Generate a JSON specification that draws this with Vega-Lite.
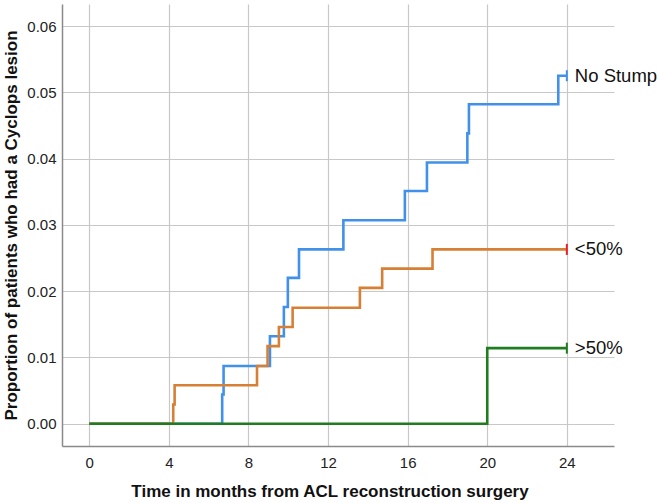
{
  "$schema": "https://vega.github.io/schema/vega-lite/v6.json",
  "width": 552,
  "height": 442,
  "autosize": "none",
  "padding": {"left": 62, "top": 4, "right": 46, "bottom": 57},
  "background": "white",
  "config": {
    "view": {"stroke": null},
    "font": "Liberation Sans",
    "axis": {
      "labelFont": "Liberation Sans",
      "titleFont": "Liberation Sans",
      "labelFontSize": 15,
      "labelColor": "#222222",
      "titleColor": "#111111",
      "titleFontSize": 17,
      "titleFontWeight": "bold",
      "gridColor": "#c8c8c8",
      "gridWidth": 1.2,
      "gridOpacity": 1,
      "domainColor": "#8a8a8a",
      "domainWidth": 1.5,
      "ticks": false
    }
  },
  "datasets": {
    "nostump": [
      {"series": "No Stump", "t": 0, "p": 0},
      {"series": "No Stump", "t": 6.68, "p": 0.0044},
      {"series": "No Stump", "t": 6.75, "p": 0.0087},
      {"series": "No Stump", "t": 9.08, "p": 0.0132},
      {"series": "No Stump", "t": 9.78, "p": 0.0176},
      {"series": "No Stump", "t": 9.98, "p": 0.022},
      {"series": "No Stump", "t": 10.54, "p": 0.0263},
      {"series": "No Stump", "t": 12.77, "p": 0.0307},
      {"series": "No Stump", "t": 15.86, "p": 0.0351},
      {"series": "No Stump", "t": 16.97, "p": 0.0394},
      {"series": "No Stump", "t": 19.0, "p": 0.0438},
      {"series": "No Stump", "t": 19.08, "p": 0.0482},
      {"series": "No Stump", "t": 23.57, "p": 0.0525},
      {"series": "No Stump", "t": 24, "p": 0.0525}
    ],
    "lt50": [
      {"series": "<50%", "t": 0, "p": 0},
      {"series": "<50%", "t": 4.22, "p": 0.0029},
      {"series": "<50%", "t": 4.29, "p": 0.0058},
      {"series": "<50%", "t": 8.43, "p": 0.0087},
      {"series": "<50%", "t": 8.96, "p": 0.0117},
      {"series": "<50%", "t": 9.53, "p": 0.0146},
      {"series": "<50%", "t": 10.22, "p": 0.0175},
      {"series": "<50%", "t": 13.6, "p": 0.0205},
      {"series": "<50%", "t": 14.72, "p": 0.0234},
      {"series": "<50%", "t": 17.25, "p": 0.0263},
      {"series": "<50%", "t": 24, "p": 0.0263}
    ],
    "gt50": [
      {"series": ">50%", "t": 0, "p": 0},
      {"series": ">50%", "t": 20.0, "p": 0.0114},
      {"series": ">50%", "t": 24, "p": 0.0114}
    ],
    "ends": [
      {"series": "No Stump", "t": 24, "p": 0.0525, "censor": "blue"},
      {"series": "<50%", "t": 24, "p": 0.0263, "censor": "red"},
      {"series": ">50%", "t": 24, "p": 0.0114, "censor": "green"}
    ]
  },
  "encoding": {
    "x": {
      "field": "t",
      "type": "quantitative",
      "scale": {"domain": [-1.37, 26.37], "nice": false, "zero": false},
      "axis": {
        "values": [0, 4, 8, 12, 16, 20, 24],
        "title": "Time in months from ACL reconstruction surgery",
        "labelPadding": 9,
        "titleX": 267.5,
        "titleY": 50,
        "titleAlign": "center",
        "titleBaseline": "alphabetic",
        "grid": true
      }
    },
    "y": {
      "field": "p",
      "type": "quantitative",
      "scale": {"domain": [-0.00336, 0.06332], "nice": false, "zero": false},
      "axis": {
        "values": [0, 0.01, 0.02, 0.03, 0.04, 0.05, 0.06],
        "format": ".2f",
        "title": "Proportion of patients who had a Cyclops lesion",
        "labelPadding": 6,
        "titlePadding": 6,
        "grid": true
      }
    }
  },
  "layer": [
    {
      "data": {"name": "nostump"},
      "mark": {"type": "line", "interpolate": "step-after", "color": "#4191ea", "strokeWidth": 2.6}
    },
    {
      "data": {"name": "lt50"},
      "mark": {"type": "line", "interpolate": "step-after", "color": "#d68035", "strokeWidth": 2.6}
    },
    {
      "data": {"name": "gt50"},
      "mark": {"type": "line", "interpolate": "step-after", "color": "#1f7d1f", "strokeWidth": 2.6}
    },
    {
      "data": {"name": "ends"},
      "mark": {"type": "tick", "orient": "vertical", "size": 11, "thickness": 2, "opacity": 1},
      "encoding": {
        "color": {
          "field": "censor",
          "type": "nominal",
          "scale": {"domain": ["blue", "red", "green"], "range": ["#4191ea", "#e8202a", "#1f7d1f"]},
          "legend": null
        }
      }
    },
    {
      "data": {"name": "ends"},
      "mark": {"type": "text", "align": "left", "baseline": "middle", "dx": 8, "fontSize": 18.5, "color": "#111111", "font": "Liberation Sans"},
      "encoding": {"text": {"field": "series"}}
    }
  ]
}
